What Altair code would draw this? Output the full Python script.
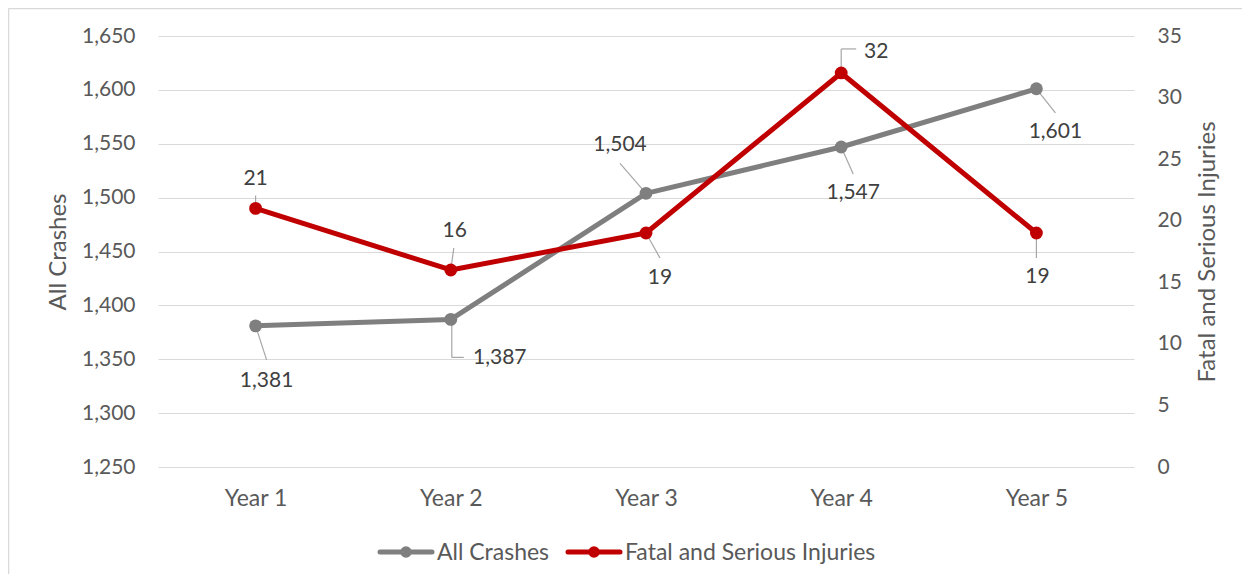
import json
import altair as alt
import pandas as pd

# ---------------- data ----------------
YEARS = ["Year 1", "Year 2", "Year 3", "Year 4", "Year 5"]
ALL_CRASHES = [1381, 1387, 1504, 1547, 1601]
FATAL_SERIOUS = [21, 16, 19, 32, 19]
SERIES = ["All Crashes", "Fatal and Serious Injuries"]
LEFT_TICKS = [1250, 1300, 1350, 1400, 1450, 1500, 1550, 1600, 1650]
RIGHT_TICKS = [0, 5, 10, 15, 20, 25, 30, 35]

# ---------------- style ----------------
GRAY = "#7F7F7F"
RED = "#C00000"
GRID = "#D9D9D9"
LEADER = "#A6A6A6"
TICK_TXT = "#595959"
LBL_TXT = "#404040"
FONT = "Lato"
NUM_FS = 21
WORD_FS = 23
TITLE_FS = 24
W, H = 976, 431

# data-label offsets (px) and leader-line paths (px offsets from the point)
AC_LABEL_OFF = [(11, 55), (49, 39), (-26, -48), (12, 46), (19, 43)]
AC_LEADER = [[(0, 0), (11, 34)], [(1, 0), (1, 38), (13, 38)], [(0, 0), (-26, -30)],
             [(0, 0), (12, 27)], [(0, 0), (19, 24)]]
FS_LABEL_OFF = [(0, -29), (4, -39), (14, 45), (35, -21), (1, 44)]
FS_LEADER = [[(0, 0), (0, -13)], [(0, 0), (3, -22)], [(0, 0), (14, 25)],
             [(0, 0), (0, -24), (15, -24)], [(0, 0), (0, 25)]]

ac_df = pd.DataFrame({"i": list(range(1, len(YEARS) + 1)), "v": ALL_CRASHES, "s": SERIES[0]})
fs_df = pd.DataFrame({"i": list(range(1, len(YEARS) + 1)), "v": FATAL_SERIOUS, "s": SERIES[1]})

x_scale = alt.Scale(domain=[0.5, len(YEARS) + 0.5], nice=False, zero=False)
x_axis = alt.Axis(
    values=list(range(1, len(YEARS) + 1)),
    labelExpr=f"{json.dumps(YEARS)}[datum.value - 1]",
    grid=False, domain=False, ticks=False, title=None,
    labelFont=FONT, labelFontSize=WORD_FS, labelColor=TICK_TXT, labelPadding=20,
)


def xenc():
    # identical axis definition on every layer so the shared axis merges cleanly
    return alt.X("i:Q", scale=x_scale, axis=x_axis)


left_scale = alt.Scale(domain=[LEFT_TICKS[0], LEFT_TICKS[-1]], nice=False, zero=False)
right_scale = alt.Scale(domain=[RIGHT_TICKS[0], RIGHT_TICKS[-1]], nice=False, zero=False)

left_axis = alt.Axis(
    orient="left", values=LEFT_TICKS, labelExpr="format(datum.value, ',')",
    grid=True, gridColor=GRID, gridWidth=1.2,
    domain=False, ticks=False, labelPadding=23,
    labelFont=FONT, labelFontSize=NUM_FS, labelColor=TICK_TXT,
    title=SERIES[0], titleFont=FONT, titleFontSize=TITLE_FS, titleFontWeight="normal",
    titleColor=TICK_TXT, titleAngle=270, titleX=-100, titleY=H / 2,
    titleBaseline="middle", titleAlign="center",
)
right_axis = alt.Axis(
    orient="right", values=RIGHT_TICKS, grid=False,
    domain=False, ticks=False, labelPadding=23,
    labelFont=FONT, labelFontSize=NUM_FS, labelColor=TICK_TXT,
    title=SERIES[1], titleFont=FONT, titleFontSize=TITLE_FS, titleFontWeight="normal",
    titleColor=TICK_TXT, titleAngle=270, titleX=73, titleY=H / 2,
    titleBaseline="middle", titleAlign="center",
)


def series_layers(df, scale, axis, color, label_off, leaders):
    def yenc(ax=False):
        if ax:
            return alt.Y("v:Q", scale=scale, axis=axis)
        return alt.Y("v:Q", scale=scale, axis=None)

    leads = []
    for k, path in enumerate(leaders):
        for (a0, b0), (a1, b1) in zip(path[:-1], path[1:]):
            leads.append(
                alt.Chart(df).transform_filter(f"datum.i == {k + 1}")
                .mark_rule(color=LEADER, strokeWidth=1.2,
                           xOffset=a0, yOffset=b0, x2Offset=a1, y2Offset=b1)
                .encode(x=xenc(), y=yenc(), x2=alt.X2("i:Q"), y2=alt.Y2("v:Q"))
            )
    line = (
        alt.Chart(df).mark_line(color=color, strokeWidth=5, strokeJoin="round", strokeCap="round")
        .encode(x=xenc(), y=yenc(True))
    )
    pts = (
        alt.Chart(df).mark_point(filled=True, color=color, size=165, opacity=1)
        .encode(x=xenc(), y=yenc())
    )
    labels = []
    for k, (dx, dy) in enumerate(label_off):
        labels.append(
            alt.Chart(df).transform_filter(f"datum.i == {k + 1}")
            .mark_text(dx=dx, dy=dy, font=FONT, fontSize=NUM_FS, color=LBL_TXT,
                       align="center", baseline="middle")
            .encode(x=xenc(), y=yenc(), text=alt.Text("v:Q", format=","))
        )
    return line, leads, pts, labels


g_line, g_lead, g_pts, g_lab = series_layers(ac_df, left_scale, left_axis, GRAY, AC_LABEL_OFF, AC_LEADER)
r_line, r_lead, r_pts, r_lab = series_layers(fs_df, right_scale, right_axis, RED, FS_LABEL_OFF, FS_LEADER)

# ---------------- legend (custom, below plot) ----------------
legend_layers = []
LEG_Y = 516
LEG_X = [222, 410]
for name, color, lx in zip(SERIES, [GRAY, RED], LEG_X):
    ldf = pd.DataFrame({"s": [name]})
    legend_layers.append(
        alt.Chart(ldf).mark_rule(color=color, strokeWidth=5, strokeCap="round")
        .encode(x=alt.value(lx), x2=alt.value(lx + 52), y=alt.value(LEG_Y))
    )
    legend_layers.append(
        alt.Chart(ldf).mark_point(filled=True, color=color, size=135, opacity=1)
        .encode(x=alt.value(lx + 26), y=alt.value(LEG_Y))
    )
    legend_layers.append(
        alt.Chart(ldf).mark_text(font=FONT, fontSize=WORD_FS, color=TICK_TXT, align="left", baseline="middle")
        .encode(x=alt.value(lx + 57), y=alt.value(LEG_Y + 1), text="s:N")
    )

# chart-area border (left and top edges)
bdf = pd.DataFrame({"s": ["border"]})
border = [
    alt.Chart(bdf).mark_rule(color=GRID, strokeWidth=1.5)
    .encode(x=alt.value(-149.5), y=alt.value(-27.5), y2=alt.value(H + 140)),
    alt.Chart(bdf).mark_rule(color=GRID, strokeWidth=1.5)
    .encode(x=alt.value(-149.5), x2=alt.value(W + 120), y=alt.value(-27.5)),
]

chart = (
    alt.layer(g_line, r_line, *g_lead, *r_lead, g_pts, r_pts, *g_lab, *r_lab,
              *legend_layers, *border)
    .resolve_scale(y="independent")
    .properties(
        width=W, height=H,
        padding={"left": 150, "top": 28, "right": 108, "bottom": 107},
        autosize=alt.AutoSizeParams(type="none"),
        background="white",
    )
    .configure_view(stroke=None)
)

chart.save("out.html", embed_options={"renderer": "svg", "actions": False})
